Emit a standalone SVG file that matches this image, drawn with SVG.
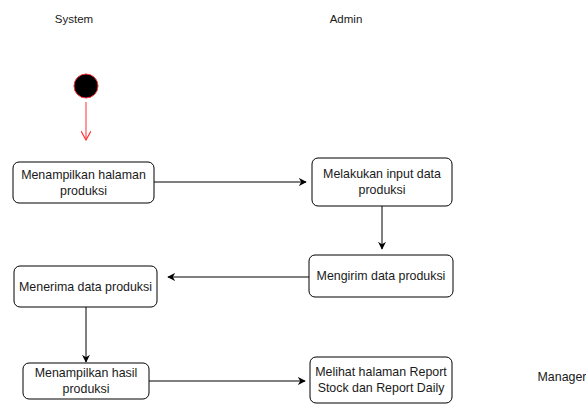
<svg xmlns="http://www.w3.org/2000/svg" width="586" height="404" viewBox="0 0 586 404">
<defs>
<marker id="ah" viewBox="0 0 10 10" refX="9" refY="5" markerWidth="8" markerHeight="8" markerUnits="userSpaceOnUse" orient="auto"><path d="M0,0 L10,5 L0,10 L3,5 Z" fill="#000"/></marker>
<marker id="ahr" viewBox="0 0 10 10" refX="9" refY="5" markerWidth="10" markerHeight="10" markerUnits="userSpaceOnUse" orient="auto"><path d="M0,0 L9,5 L0,10" fill="none" stroke="#ff3333" stroke-width="1.2"/></marker>
<style>
.box{fill:#fff;stroke:#000;stroke-width:1;}
.t{font-family:"Liberation Sans",Arial,sans-serif;font-size:12.4px;fill:#1a1a1a;text-anchor:middle;}
.h{font-family:"Liberation Sans",Arial,sans-serif;font-size:11.5px;fill:#1a1a1a;text-anchor:middle;}
.c{fill:none;stroke:#000;stroke-width:1;}
</style>
</defs>
<rect width="586" height="404" fill="#fff"/>
<text class="h" x="74" y="23">System</text>
<text class="h" x="346" y="23">Admin</text>
<text class="t" x="562" y="381">Manager</text>
<g id="start"><circle cx="86" cy="86" r="12" fill="#000" stroke="#ff3333" stroke-width="1"/></g>
<g id="n1"><rect class="box" x="13" y="162" width="141" height="41" rx="6"/><text class="t" x="83.5" y="179">Menampilkan halaman</text><text class="t" x="83.5" y="195">produksi</text></g>
<g id="n2"><rect class="box" x="312" y="158" width="140" height="48" rx="6"/><text class="t" x="382" y="178">Melakukan input data</text><text class="t" x="382" y="194">produksi</text></g>
<g id="n3"><rect class="box" x="309" y="255" width="144" height="42" rx="6"/><text class="t" x="381" y="280">Mengirim data produksi</text></g>
<g id="n4"><rect class="box" x="14" y="266" width="143" height="41" rx="6"/><text class="t" x="85.5" y="291">Menerima data produksi</text></g>
<g id="n5"><rect class="box" x="23" y="363" width="126" height="36" rx="6"/><text class="t" x="86" y="377">Menampilkan hasil</text><text class="t" x="86" y="393">produksi</text></g>
<g id="n6"><rect class="box" x="310" y="357" width="142" height="46" rx="6"/><text class="t" x="381" y="376">Melihat halaman Report</text><text class="t" x="381" y="392">Stock dan Report Daily</text></g>
<g id="connectors">
<line x1="86" y1="102" x2="86" y2="140" stroke="#ff3333" stroke-width="1" marker-end="url(#ahr)"/>
<line class="c" x1="154" y1="182" x2="306" y2="182" marker-end="url(#ah)"/>
<line class="c" x1="382" y1="206" x2="382" y2="249" marker-end="url(#ah)"/>
<line class="c" x1="309" y1="277" x2="168" y2="277" marker-end="url(#ah)"/>
<line class="c" x1="86" y1="307" x2="86" y2="362" marker-end="url(#ah)"/>
<line class="c" x1="149" y1="381" x2="305" y2="381" marker-end="url(#ah)"/>
</g>
</svg>
